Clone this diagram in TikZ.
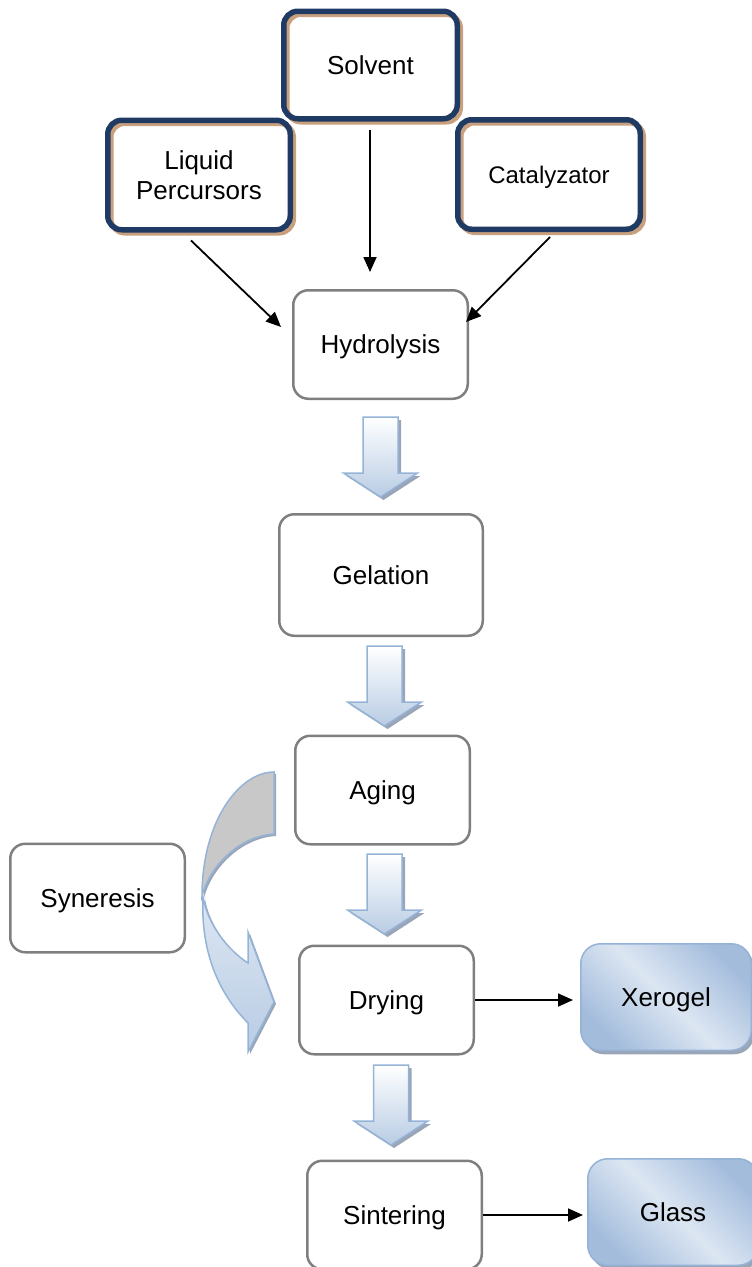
\documentclass[tikz,border=0pt]{standalone}
\usepackage{fontspec}
\setmainfont{Liberation Sans}
\usetikzlibrary{arrows.meta}
\definecolor{navy}{HTML}{1F3B63}
\definecolor{tanc}{HTML}{C9A07E}
\definecolor{boxgray}{HTML}{7F7F7F}
\definecolor{edgeblue}{HTML}{95B3D7}
\definecolor{lightblue}{HTML}{DCE6F2}
\definecolor{midblue}{HTML}{A3BCDC}
\definecolor{arrowblue}{HTML}{B8CCE4}
\definecolor{shadowc}{HTML}{9AA6B8}
\definecolor{crescent}{HTML}{C8C8C8}
\begin{document}
\begin{tikzpicture}[x=1pt,y=-1pt,
  every node/.style={font=\fontsize{26}{30}\selectfont, inner sep=0pt, align=center},
  oneline/.style={text height=18.6pt, text depth=0pt},
  topbox/.style={rectangle, rounded corners=14pt, line width=5.5pt, draw=navy,
    preaction={fill=white},
    preaction={draw=tanc, line width=5.5pt, transform canvas={shift={(3pt,-3pt)}}},
    minimum width=182.5pt, minimum height=109.5pt},
  graybox/.style={rectangle, rounded corners=15pt, draw=boxgray, line width=2.5pt,
    fill=white, minimum width=174.5pt, minimum height=108.5pt, oneline},
  bluebox/.style={rectangle, rounded corners=20pt, draw=edgeblue, line width=1.5pt,
    preaction={fill=shadowc, transform canvas={shift={(3pt,-4pt)}}},
    left color=midblue, right color=midblue, middle color=lightblue, shading angle=-45,
    minimum width=170.5pt, minimum height=106.5pt, oneline},
  conn/.style={line width=1.8pt, -{Triangle[length=15pt,width=13pt]}},
  blockarrow/.style={draw=edgeblue, line width=1.5pt, top color=white, bottom color=arrowblue},
  curvedge/.style={draw=edgeblue, line width=1.5pt}
]
\useasboundingbox (0,0) rectangle (752,1267);

% top input boxes
\node[topbox, oneline, minimum width=173.5pt, minimum height=107.5pt] (solv) at (370.5,65) {Solvent};
\node[topbox] (lp) at (199,175) {Liquid\\Percursors};
\node[topbox, font=\fontsize{24}{28}\selectfont, text height=17.2pt, text depth=0pt] (cat) at (549,174.5) {Catalyzator};

% process boxes
\node[graybox] (hyd) at (380.5,344.5) {Hydrolysis};
\node[graybox, minimum width=203.5pt, minimum height=121.5pt] (gel) at (381,575) {Gelation};
\node[graybox] (age) at (382.5,790) {Aging};
\node[graybox] (syn) at (97.5,898) {Syneresis};
\node[graybox] (dry) at (386.5,1000) {Drying};
\node[graybox] (sin) at (394.5,1215) {Sintering};

% products
\node[bluebox] (xer) at (666,997) {Xerogel};
\node[bluebox] (gla) at (673,1212) {Glass};

% connectors
\draw[conn] ([xshift=-8pt,yshift=-8pt]lp.south) -- ([xshift=-11pt,yshift=17.5pt]hyd.west);
\draw[conn] ([xshift=-0.5pt,yshift=-8pt]solv.south) -- ([xshift=-10.5pt,yshift=17pt]hyd.north);
\draw[conn] ([xshift=1pt,yshift=-5pt]cat.south) -- ([xshift=-3pt,yshift=22.5pt]hyd.east);
\draw[conn, shorten >=7pt] (dry.east) -- (dry.east -| xer.west);
\draw[conn, shorten >=4pt] (sin.east) -- (sin.east -| gla.west);

% block arrows
\foreach \cx/\ty in {380.5/417, 384.5/646, 384.5/854, 391/1065}{
  \fill[shadowc, shift={(3,3)}] (\cx-17.5,\ty) -- (\cx+17.5,\ty) -- (\cx+17.5,\ty+56)
    -- (\cx+37,\ty+56) -- (\cx,\ty+80) -- (\cx-37,\ty+56) -- (\cx-17.5,\ty+56) -- cycle;
  \draw[blockarrow] (\cx-17.5,\ty) -- (\cx+17.5,\ty) -- (\cx+17.5,\ty+56)
    -- (\cx+37,\ty+56) -- (\cx,\ty+80) -- (\cx-37,\ty+56) -- (\cx-17.5,\ty+56) -- cycle;
}

% curved arrow (syneresis)
\fill[shadowc, shift={(2,2)}] (274,772) .. controls (240,772) and (202,820) .. (202,896)
  .. controls (210,865) and (240,836) .. (274,834) -- cycle;
\draw[curvedge, fill=crescent] (274,772) .. controls (240,772) and (202,820) .. (202,896)
  .. controls (210,865) and (240,836) .. (274,834) -- cycle;
\fill[shadowc, shift={(2,2)}] (203,897) .. controls (200,960) and (225,1000) .. (248,1023)
  -- (248,1052) -- (274,1002) -- (248,932) -- (248,963)
  .. controls (228,950) and (208,925) .. (203,897) -- cycle;
\draw[curvedge, top color=lightblue, bottom color=arrowblue] (203,897) .. controls (200,960) and (225,1000) .. (248,1023)
  -- (248,1052) -- (274,1002) -- (248,932) -- (248,963)
  .. controls (228,950) and (208,925) .. (203,897) -- cycle;
\end{tikzpicture}
\end{document}
